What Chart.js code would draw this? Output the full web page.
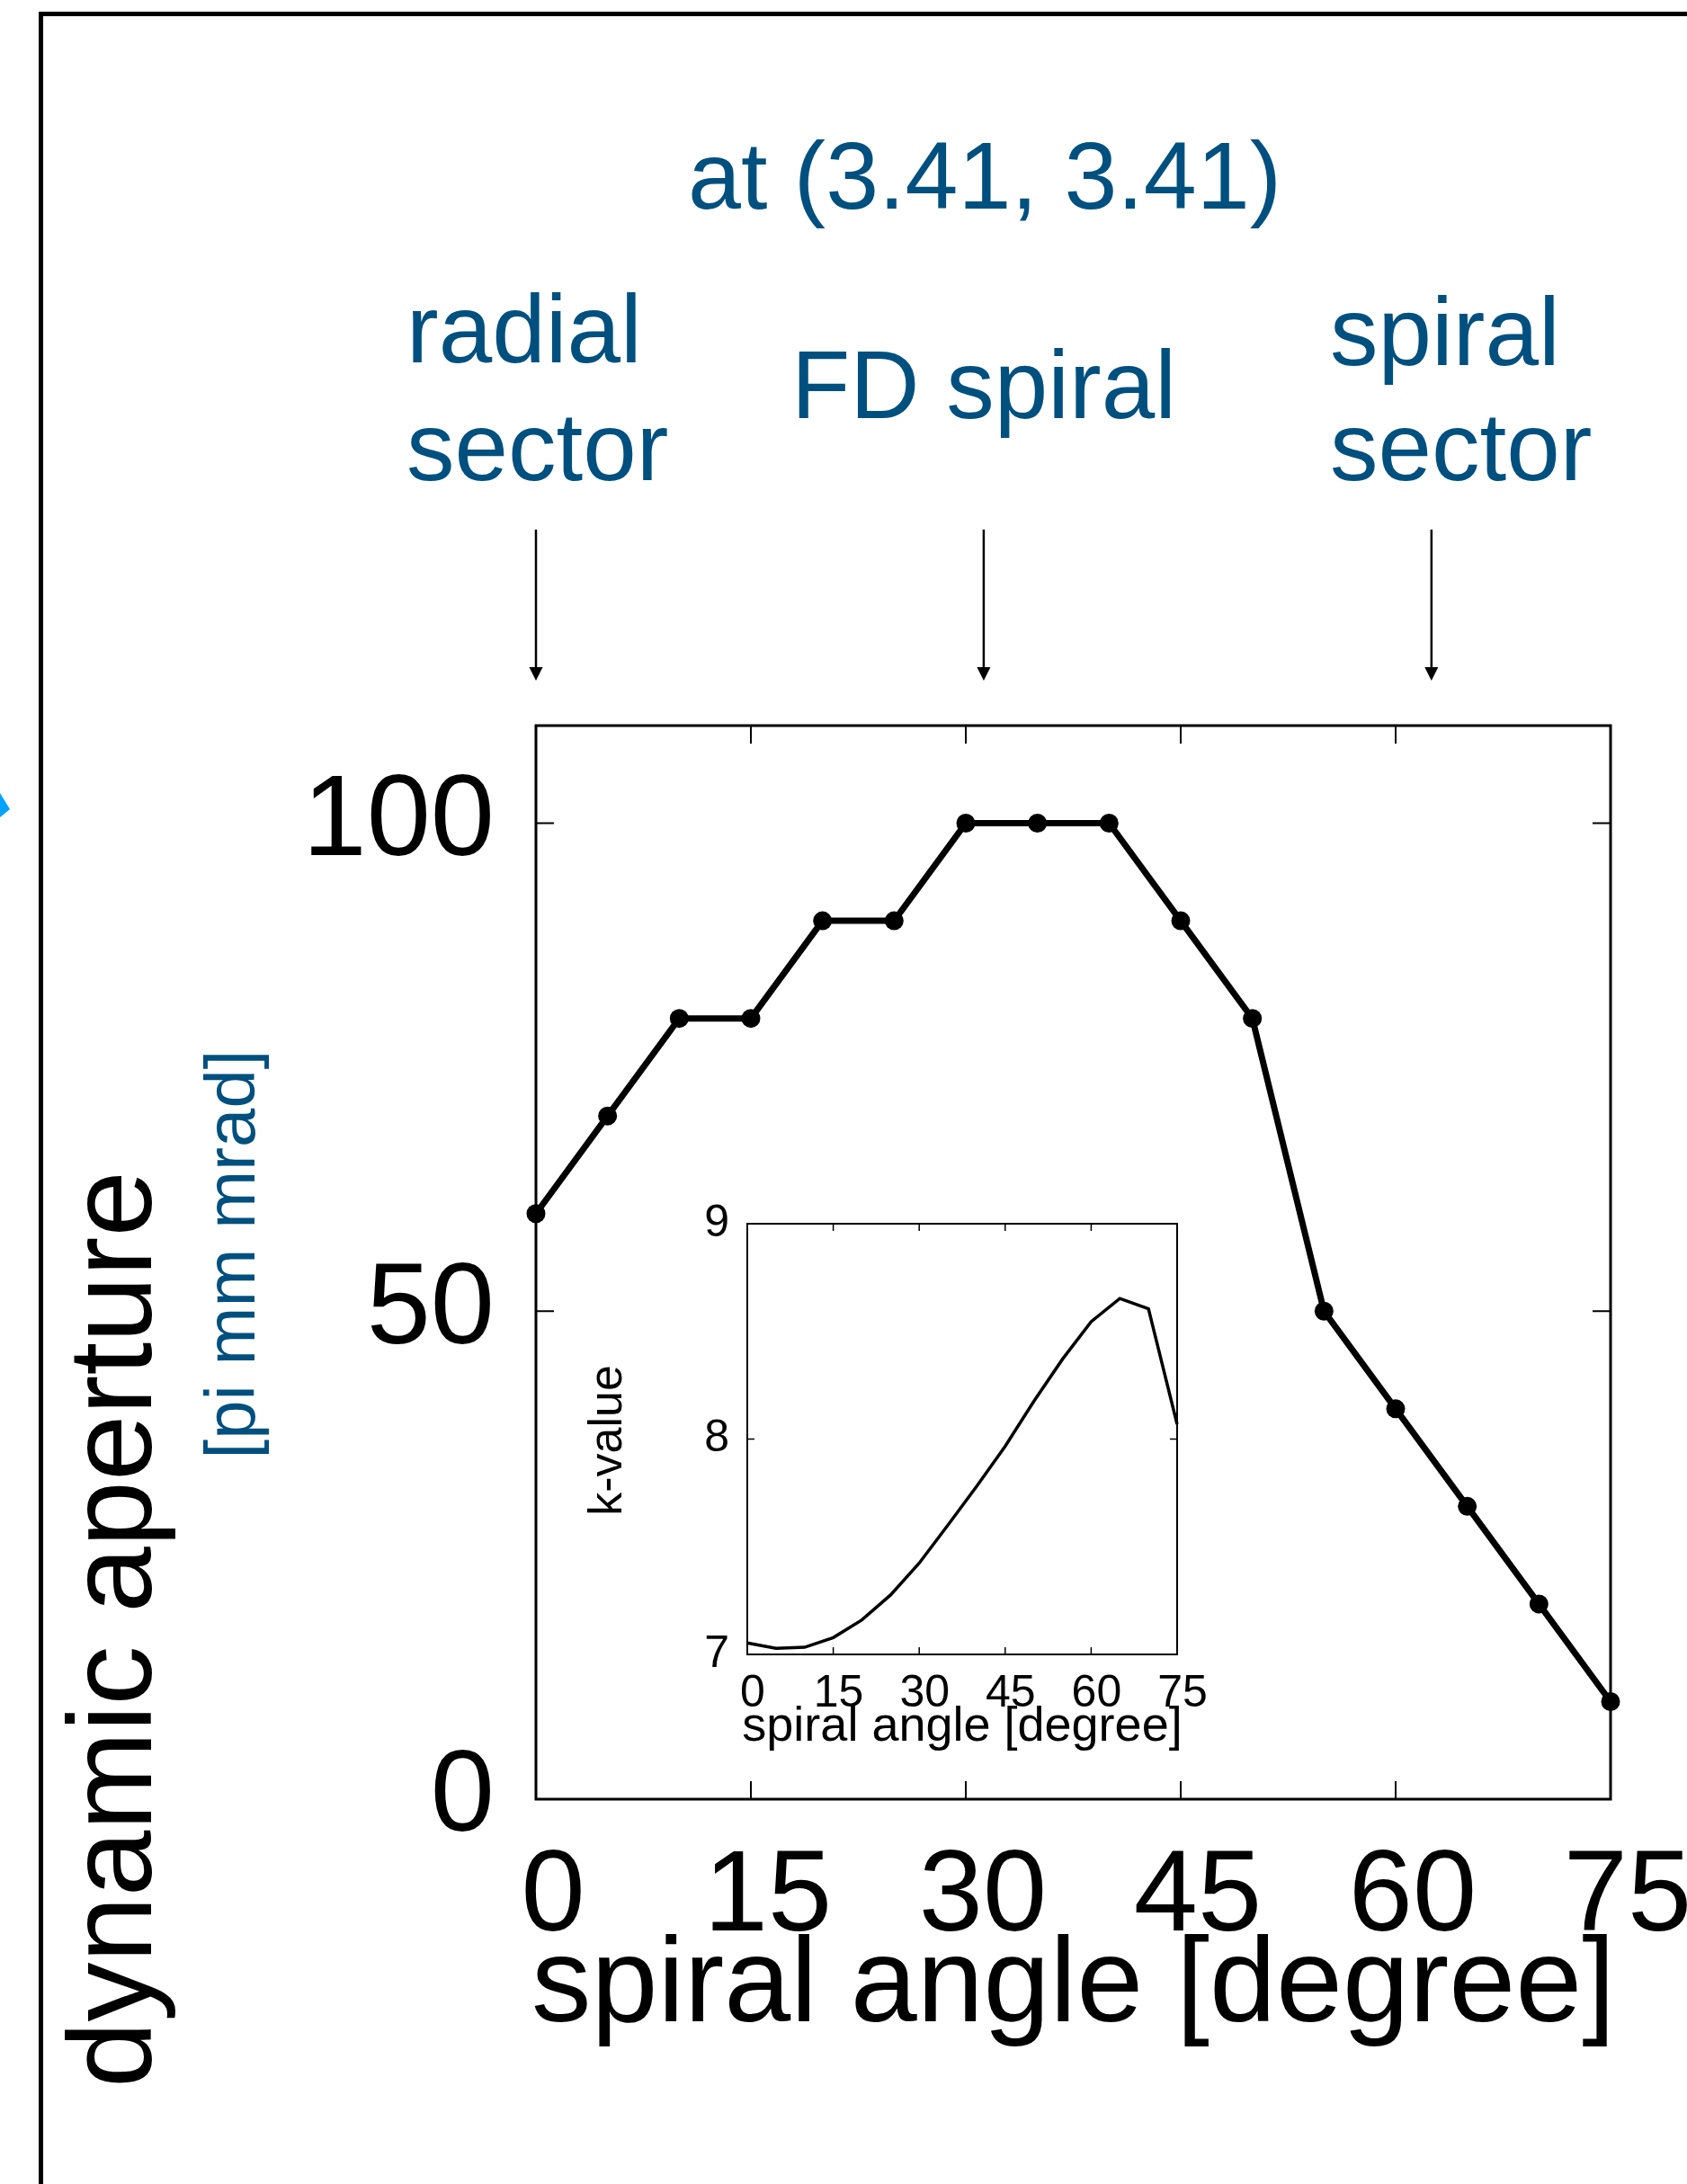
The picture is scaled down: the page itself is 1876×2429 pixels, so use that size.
<!DOCTYPE html>
<html>
<head>
<meta charset="utf-8">
<script src="https://cdn.jsdelivr.net/npm/chart.js@4"></script>
<style>
  html, body { margin: 0; padding: 0; background: #fff; }
  #page { position: relative; width: 1876px; height: 2429px; overflow: hidden; }
  #frame { position: absolute; left: 43px; top: 13px; width: 2000px; height: 2600px; border-left: 5px solid #000; border-top: 5px solid #000; box-sizing: border-box; }
  #main { position: absolute; left: 0; top: 0; }
  #inset { position: absolute; left: 620px; top: 1330px; }
</style>
</head>
<body>
<div id="page">
  <div id="frame"></div>
  <canvas id="main" width="1876" height="2429"></canvas>
  <canvas id="inset" width="760" height="640"></canvas>
</div>
<script>
// ==================== Data ====================

const FONT = '"Liberation Sans", Arial, Helvetica, sans-serif';
const BLUE = '#00507f';

// main plot: dynamic aperture vs spiral angle
const angles = [0, 5, 10, 15, 20, 25, 30, 35, 40, 45, 50, 55, 60, 65, 70, 75];
const aperture = [60, 70, 80, 80, 90, 90, 100, 100, 100, 90, 80, 50, 40, 30, 20, 10];
const xTicks = [0, 15, 30, 45, 60, 75];
const yTicks = [0, 50, 100];

// inset: k-value vs spiral angle
const kAngles = [0, 5, 10, 15, 20, 25, 30, 35, 40, 45, 50, 55, 60, 65, 70, 75];
const kValue = [7.053, 7.028, 7.033, 7.078, 7.160, 7.276, 7.424, 7.600, 7.780, 7.967, 8.175, 8.371, 8.545, 8.653, 8.605, 8.069];
const kTicksX = [0, 15, 30, 45, 60, 75];
const kTicksY = [7, 8, 9];

// arrows above the plot (spiral angle they point at)
const arrowAngles = [0, 31.25, 62.5];

Chart.defaults.font.family = FONT;
Chart.defaults.color = '#000';

// ==================== Plugins ====================

// closed box with inward ticks on all four sides
const boxTicks = {
    id: 'boxTicks',
    beforeDatasetsDraw(chart, args, opts) {
        const { ctx, chartArea: a, scales: { x, y } } = chart;
        ctx.save();
        ctx.strokeStyle = '#000';
        ctx.lineWidth = opts.tickWidth;
        ctx.beginPath();
        x.ticks.forEach(t => {
            const px = x.getPixelForValue(t.value);
            ctx.moveTo(px, a.bottom); ctx.lineTo(px, a.bottom - opts.len);
            ctx.moveTo(px, a.top); ctx.lineTo(px, a.top + opts.len);
        });
        y.ticks.forEach(t => {
            const py = y.getPixelForValue(t.value);
            ctx.moveTo(a.left, py); ctx.lineTo(a.left + opts.len, py);
            ctx.moveTo(a.right, py); ctx.lineTo(a.right - opts.len, py);
        });
        ctx.stroke();
        ctx.lineWidth = opts.boxWidth;
        ctx.strokeRect(a.left, a.top, a.right - a.left, a.bottom - a.top);
        ctx.restore();
    }
};

const mainNotes = {
    id: 'mainNotes',
    afterDraw(chart) {
        const { ctx, chartArea: a, scales: { x } } = chart;
        ctx.save();
        // blue annotations
        ctx.fillStyle = BLUE;
        ctx.font = `106px ${FONT}`;
        ctx.textAlign = 'center';
        ctx.fillText('at (3.41, 3.41)', 1095, 232);
        ctx.font = `107px ${FONT}`;
        ctx.fillText('FD spiral', x.getPixelForValue(arrowAngles[1]), 465);
        ctx.textAlign = 'left';
        ctx.fillText('radial', 452, 403);
        ctx.fillText('sector', 452, 534);
        ctx.fillText('spiral', 1479, 406);
        ctx.fillText('sector', 1479, 534);
        // arrows
        ctx.fillStyle = '#000';
        ctx.strokeStyle = '#000';
        ctx.lineWidth = 2.5;
        arrowAngles.forEach(v => {
            const px = x.getPixelForValue(v);
            ctx.beginPath(); ctx.moveTo(px, 589); ctx.lineTo(px, 745); ctx.stroke();
            ctx.beginPath();
            ctx.moveTo(px - 7.5, 742); ctx.lineTo(px + 7.5, 742); ctx.lineTo(px, 757);
            ctx.closePath(); ctx.fill();
        });
        // axis titles
        ctx.font = `133px ${FONT}`;
        ctx.textAlign = 'center';
        ctx.fillText('spiral angle [degree]', (a.left + a.right) / 2, 2248);
        ctx.save();
        ctx.translate(168, 2322);
        ctx.rotate(-Math.PI / 2);
        ctx.textAlign = 'left';
        ctx.font = `132px ${FONT}`;
        ctx.fillText('dynamic aperture', 0, 0);
        ctx.restore();
        ctx.save();
        ctx.translate(283, 1395);
        ctx.rotate(-Math.PI / 2);
        ctx.textAlign = 'center';
        ctx.fillStyle = BLUE;
        ctx.font = `78px ${FONT}`;
        ctx.fillText('[pi mm mrad]', 0, 0);
        ctx.restore();
        // bit of a blue arrowhead cut by the left edge
        ctx.fillStyle = '#00a2ff';
        ctx.beginPath();
        ctx.moveTo(0, 882); ctx.lineTo(11, 900); ctx.lineTo(0, 909);
        ctx.closePath(); ctx.fill();
        ctx.restore();
    }
};

const insetNotes = {
    id: 'insetNotes',
    afterDraw(chart) {
        const { ctx, chartArea: a } = chart;
        ctx.save();
        ctx.fillStyle = '#000';
        ctx.font = `54px ${FONT}`;
        ctx.textAlign = 'center';
        ctx.fillText('spiral angle [degree]', (a.left + a.right) / 2, 606);
        ctx.translate(71, 272);
        ctx.rotate(-Math.PI / 2);
        ctx.font = `52px ${FONT}`;
        ctx.fillText('k-value', 0, 0);
        ctx.restore();
    }
};

// ==================== Charts ====================

// fixed-size axis: no extra padding so the plot box lands where we want it
function axisOpts(ticks, size, padding, labelOffset, fit) {
    return {
        type: 'linear',
        min: ticks.min,
        max: ticks.max,
        afterBuildTicks: s => { s.ticks = ticks.list.map(v => ({ value: v })); },
        afterFit: s => {
            fit(s);
            s.paddingLeft = s.paddingRight = s.paddingTop = s.paddingBottom = 0;
        },
        grid: { display: false, drawTicks: false, tickLength: 0 },
        border: { display: false },
        ticks: { font: { size }, color: '#000', padding, labelOffset, maxRotation: 0, autoSkip: false }
    };
}

new Chart(document.getElementById('main'), {
    type: 'line',
    data: {
        datasets: [{
            data: aperture.map((v, i) => ({ x: angles[i], y: v })),
            borderColor: '#000',
            borderWidth: 7,
            pointRadius: 10.5,
            pointBackgroundColor: '#000',
            pointBorderWidth: 0,
            tension: 0,
            clip: false
        }]
    },
    options: {
        responsive: false,
        animation: false,
        devicePixelRatio: 1,
        layout: { padding: { top: 807, right: 85, left: 0, bottom: 0 } },
        plugins: {
            legend: { display: false },
            tooltip: { enabled: false },
            boxTicks: { len: 20, tickWidth: 2, boxWidth: 3 }
        },
        scales: {
            x: axisOpts({ min: 0, max: 75, list: xTicks }, 128, 34, 19, s => { s.height = 428; }),
            y: axisOpts({ min: 0, max: 110, list: yTicks }, 128, 46, 0, s => { s.width = 596; })
        }
    },
    plugins: [boxTicks, mainNotes]
});

new Chart(document.getElementById('inset'), {
    type: 'line',
    data: {
        datasets: [{
            data: kValue.map((v, i) => ({ x: kAngles[i], y: v })),
            borderColor: '#000',
            borderWidth: 3.5,
            pointRadius: 0,
            tension: 0,
            clip: false
        }]
    },
    options: {
        responsive: false,
        animation: false,
        devicePixelRatio: 1,
        layout: { padding: { top: 31, right: 71, left: 0, bottom: 0 } },
        plugins: {
            legend: { display: false },
            tooltip: { enabled: false },
            boxTicks: { len: 8, tickWidth: 1.5, boxWidth: 2 }
        },
        scales: {
            x: axisOpts({ min: 0, max: 75, list: kTicksX }, 50, 14, 6, s => { s.height = 130; }),
            y: axisOpts({ min: 7, max: 9, list: kTicksY }, 50, 20, 0, s => { s.width = 211; })
        }
    },
    plugins: [boxTicks, insetNotes]
});
</script>
</body>
</html>
